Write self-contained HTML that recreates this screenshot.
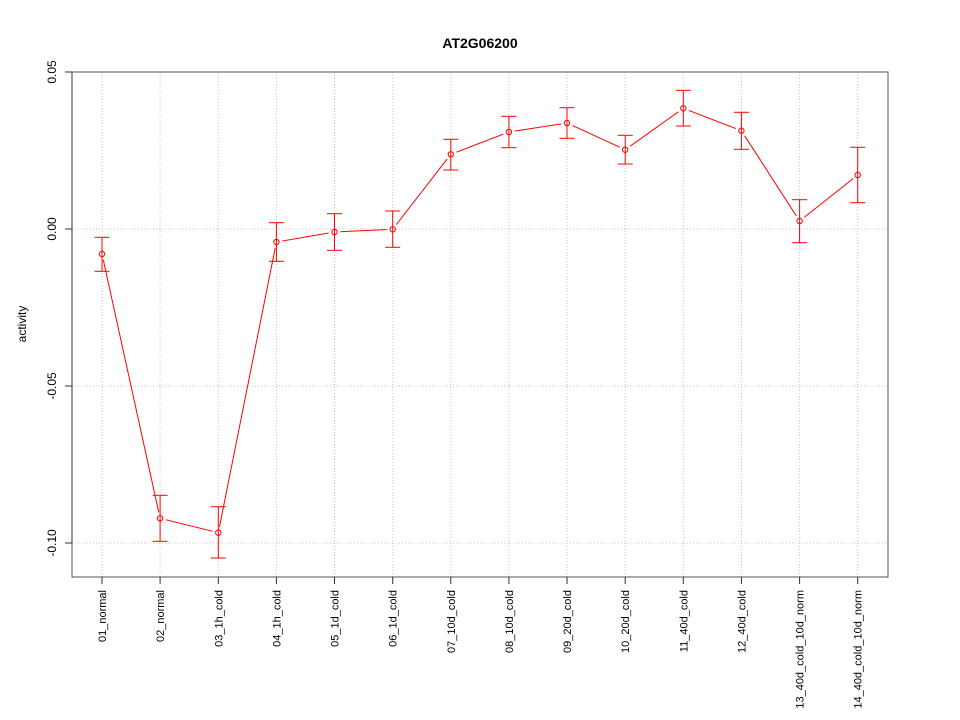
<!DOCTYPE html>
<html>
<head>
<meta charset="utf-8">
<style>
html,body{margin:0;padding:0;background:#fff;}
svg{display:block;}
text{font-family:"Liberation Sans",Arial,sans-serif;fill:#000;}
</style>
</head>
<body>
<svg width="960" height="720" viewBox="0 0 960 720" xmlns="http://www.w3.org/2000/svg">
<rect x="0" y="0" width="960" height="720" fill="#fff"/>

<!-- Title -->
<text x="480" y="48" font-size="14" font-weight="bold" text-anchor="middle">AT2G06200</text>

<!-- Grid -->
<g stroke="#c4c4c4" stroke-width="1" stroke-dasharray="1,2" fill="none">
  <line x1="102" y1="72" x2="102" y2="577"/>
  <line x1="160.1" y1="72" x2="160.1" y2="577"/>
  <line x1="218.3" y1="72" x2="218.3" y2="577"/>
  <line x1="276.4" y1="72" x2="276.4" y2="577"/>
  <line x1="334.5" y1="72" x2="334.5" y2="577"/>
  <line x1="392.7" y1="72" x2="392.7" y2="577"/>
  <line x1="450.8" y1="72" x2="450.8" y2="577"/>
  <line x1="508.9" y1="72" x2="508.9" y2="577"/>
  <line x1="567" y1="72" x2="567" y2="577"/>
  <line x1="625.2" y1="72" x2="625.2" y2="577"/>
  <line x1="683.3" y1="72" x2="683.3" y2="577"/>
  <line x1="741.4" y1="72" x2="741.4" y2="577"/>
  <line x1="799.6" y1="72" x2="799.6" y2="577"/>
  <line x1="857.7" y1="72" x2="857.7" y2="577"/>
  <line x1="72" y1="72" x2="888" y2="72"/>
  <line x1="72" y1="229" x2="888" y2="229"/>
  <line x1="72" y1="386" x2="888" y2="386"/>
  <line x1="72" y1="543" x2="888" y2="543"/>
</g>

<!-- Mask for line gaps (type="b") -->
<defs>
<mask id="gap" maskUnits="userSpaceOnUse" x="0" y="0" width="960" height="720">
  <rect x="0" y="0" width="960" height="720" fill="#fff"/>
  <g fill="#000">
    <circle cx="102" cy="254" r="6"/>
    <circle cx="160.1" cy="518.3" r="6"/>
    <circle cx="218.3" cy="532.7" r="6"/>
    <circle cx="276.4" cy="242" r="6"/>
    <circle cx="334.5" cy="232" r="6"/>
    <circle cx="392.7" cy="229.3" r="6"/>
    <circle cx="450.8" cy="154.3" r="6"/>
    <circle cx="508.9" cy="132" r="6"/>
    <circle cx="567" cy="123" r="6"/>
    <circle cx="625.2" cy="149.7" r="6"/>
    <circle cx="683.3" cy="108.3" r="6"/>
    <circle cx="741.4" cy="130.7" r="6"/>
    <circle cx="799.6" cy="221" r="6"/>
    <circle cx="857.7" cy="175" r="6"/>
  </g>
</mask>
</defs>

<!-- Series line -->
<polyline mask="url(#gap)" fill="none" stroke="#ff0000" stroke-width="1"
 points="102,254 160.1,518.3 218.3,532.7 276.4,242 334.5,232 392.7,229.3 450.8,154.3 508.9,132 567,123 625.2,149.7 683.3,108.3 741.4,130.7 799.6,221 857.7,175"/>

<!-- Error bars -->
<g stroke="#ff0000" stroke-width="1" fill="none">
  <line x1="102" y1="237.3" x2="102" y2="271.3"/><line x1="94.5" y1="237.3" x2="109.5" y2="237.3"/><line x1="94.5" y1="271.3" x2="109.5" y2="271.3"/>
  <line x1="160.1" y1="495.3" x2="160.1" y2="541.3"/><line x1="152.6" y1="495.3" x2="167.6" y2="495.3"/><line x1="152.6" y1="541.3" x2="167.6" y2="541.3"/>
  <line x1="218.3" y1="506.7" x2="218.3" y2="558"/><line x1="210.8" y1="506.7" x2="225.8" y2="506.7"/><line x1="210.8" y1="558" x2="225.8" y2="558"/>
  <line x1="276.4" y1="222.7" x2="276.4" y2="261.3"/><line x1="268.9" y1="222.7" x2="283.9" y2="222.7"/><line x1="268.9" y1="261.3" x2="283.9" y2="261.3"/>
  <line x1="334.5" y1="213.7" x2="334.5" y2="250.3"/><line x1="327" y1="213.7" x2="342" y2="213.7"/><line x1="327" y1="250.3" x2="342" y2="250.3"/>
  <line x1="392.7" y1="211" x2="392.7" y2="247.3"/><line x1="385.2" y1="211" x2="400.2" y2="211"/><line x1="385.2" y1="247.3" x2="400.2" y2="247.3"/>
  <line x1="450.8" y1="139.3" x2="450.8" y2="170"/><line x1="443.3" y1="139.3" x2="458.3" y2="139.3"/><line x1="443.3" y1="170" x2="458.3" y2="170"/>
  <line x1="508.9" y1="116.3" x2="508.9" y2="147.7"/><line x1="501.4" y1="116.3" x2="516.4" y2="116.3"/><line x1="501.4" y1="147.7" x2="516.4" y2="147.7"/>
  <line x1="567" y1="107.7" x2="567" y2="138.3"/><line x1="559.5" y1="107.7" x2="574.5" y2="107.7"/><line x1="559.5" y1="138.3" x2="574.5" y2="138.3"/>
  <line x1="625.2" y1="135.3" x2="625.2" y2="164"/><line x1="617.7" y1="135.3" x2="632.7" y2="135.3"/><line x1="617.7" y1="164" x2="632.7" y2="164"/>
  <line x1="683.3" y1="90.3" x2="683.3" y2="126"/><line x1="675.8" y1="90.3" x2="690.8" y2="90.3"/><line x1="675.8" y1="126" x2="690.8" y2="126"/>
  <line x1="741.4" y1="112.3" x2="741.4" y2="149.3"/><line x1="733.9" y1="112.3" x2="748.9" y2="112.3"/><line x1="733.9" y1="149.3" x2="748.9" y2="149.3"/>
  <line x1="799.6" y1="199.7" x2="799.6" y2="242.7"/><line x1="792.1" y1="199.7" x2="807.1" y2="199.7"/><line x1="792.1" y1="242.7" x2="807.1" y2="242.7"/>
  <line x1="857.7" y1="147.3" x2="857.7" y2="202.7"/><line x1="850.2" y1="147.3" x2="865.2" y2="147.3"/><line x1="850.2" y1="202.7" x2="865.2" y2="202.7"/>
</g>

<!-- Points -->
<g stroke="#ff0000" stroke-width="1" fill="none">
  <circle cx="102" cy="254" r="2.7"/>
  <circle cx="160.1" cy="518.3" r="2.7"/>
  <circle cx="218.3" cy="532.7" r="2.7"/>
  <circle cx="276.4" cy="242" r="2.7"/>
  <circle cx="334.5" cy="232" r="2.7"/>
  <circle cx="392.7" cy="229.3" r="2.7"/>
  <circle cx="450.8" cy="154.3" r="2.7"/>
  <circle cx="508.9" cy="132" r="2.7"/>
  <circle cx="567" cy="123" r="2.7"/>
  <circle cx="625.2" cy="149.7" r="2.7"/>
  <circle cx="683.3" cy="108.3" r="2.7"/>
  <circle cx="741.4" cy="130.7" r="2.7"/>
  <circle cx="799.6" cy="221" r="2.7"/>
  <circle cx="857.7" cy="175" r="2.7"/>
</g>

<!-- Box -->
<rect x="72" y="72" width="816" height="505" fill="none" stroke="#555" stroke-width="1"/>

<!-- Y axis -->
<g stroke="#333" stroke-width="1">
  <line x1="72" y1="72" x2="72" y2="543"/>
  <line x1="65" y1="72" x2="72" y2="72"/>
  <line x1="65" y1="229" x2="72" y2="229"/>
  <line x1="65" y1="386" x2="72" y2="386"/>
  <line x1="65" y1="543" x2="72" y2="543"/>
</g>
<g font-size="12" text-anchor="middle">
  <text transform="translate(56,72) rotate(-90)">0.05</text>
  <text transform="translate(56,229) rotate(-90)">0.00</text>
  <text transform="translate(56,386) rotate(-90)">-0.05</text>
  <text transform="translate(56,543) rotate(-90)">-0.10</text>
</g>
<text transform="translate(26,324) rotate(-90)" font-size="12" text-anchor="middle">activity</text>

<!-- X axis ticks -->
<g stroke="#333" stroke-width="1">
  <line x1="102" y1="577" x2="102" y2="584"/>
  <line x1="160.1" y1="577" x2="160.1" y2="584"/>
  <line x1="218.3" y1="577" x2="218.3" y2="584"/>
  <line x1="276.4" y1="577" x2="276.4" y2="584"/>
  <line x1="334.5" y1="577" x2="334.5" y2="584"/>
  <line x1="392.7" y1="577" x2="392.7" y2="584"/>
  <line x1="450.8" y1="577" x2="450.8" y2="584"/>
  <line x1="508.9" y1="577" x2="508.9" y2="584"/>
  <line x1="567" y1="577" x2="567" y2="584"/>
  <line x1="625.2" y1="577" x2="625.2" y2="584"/>
  <line x1="683.3" y1="577" x2="683.3" y2="584"/>
  <line x1="741.4" y1="577" x2="741.4" y2="584"/>
  <line x1="799.6" y1="577" x2="799.6" y2="584"/>
  <line x1="857.7" y1="577" x2="857.7" y2="584"/>
</g>
<g font-size="11" text-anchor="end">
  <text transform="translate(106,590) rotate(-90)">01_normal</text>
  <text transform="translate(164.1,590) rotate(-90)">02_normal</text>
  <text transform="translate(222.3,590) rotate(-90)">03_1h_cold</text>
  <text transform="translate(280.4,590) rotate(-90)">04_1h_cold</text>
  <text transform="translate(338.5,590) rotate(-90)">05_1d_cold</text>
  <text transform="translate(396.7,590) rotate(-90)">06_1d_cold</text>
  <text transform="translate(454.8,590) rotate(-90)">07_10d_cold</text>
  <text transform="translate(512.9,590) rotate(-90)">08_10d_cold</text>
  <text transform="translate(571,590) rotate(-90)">09_20d_cold</text>
  <text transform="translate(629.2,590) rotate(-90)">10_20d_cold</text>
  <text transform="translate(687.3,590) rotate(-90)">11_40d_cold</text>
  <text transform="translate(745.4,590) rotate(-90)">12_40d_cold</text>
  <text transform="translate(803.6,590) rotate(-90)">13_40d_cold_10d_norm</text>
  <text transform="translate(861.7,590) rotate(-90)">14_40d_cold_10d_norm</text>
</g>
</svg>
</body>
</html>
